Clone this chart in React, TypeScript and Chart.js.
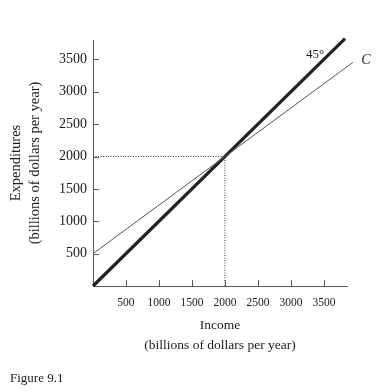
import React, { useEffect, useRef } from "react";
import { Chart, registerables } from "chart.js";

Chart.register(...registerables);

// Data
const incomeTicks = [500, 1000, 1500, 2000, 2500, 3000, 3500];
const expenditureTicks = [500, 1000, 1500, 2000, 2500, 3000, 3500];
const line45X = [0, 3820];
const line45Y = [0, 3820];
const consumptionX = [0, 3940];
const consumptionY = [500, 3455];
const equilibriumIncome = 2000;
const equilibriumExpenditure = 2000;

const SERIF = "'Liberation Serif', 'Times New Roman', serif";
const AXIS_COLOR = "#5a5a5a";
const TEXT_COLOR = "#1a1a1a";

const toPoints = (xs: number[], ys: number[]) => xs.map((x, i) => ({ x, y: ys[i] }));

const innerTicksPlugin = {
  id: "innerTicks",
  afterDraw(chart: any) {
    const { ctx, chartArea, scales } = chart;
    const xs = scales.x;
    const ys = scales.y;
    ctx.save();
    ctx.strokeStyle = AXIS_COLOR;
    ctx.lineWidth = 1;
    incomeTicks.forEach((v) => {
      const px = Math.round(xs.getPixelForValue(v)) + 0.5;
      ctx.beginPath();
      ctx.moveTo(px, chartArea.bottom);
      ctx.lineTo(px, chartArea.bottom - 6);
      ctx.stroke();
    });
    expenditureTicks.forEach((v) => {
      const py = Math.round(ys.getPixelForValue(v)) + 0.5;
      ctx.beginPath();
      ctx.moveTo(chartArea.left, py);
      ctx.lineTo(chartArea.left + 6, py);
      ctx.stroke();
    });
    // line labels
    ctx.fillStyle = TEXT_COLOR;
    ctx.textAlign = "center";
    ctx.textBaseline = "middle";
    ctx.font = `13px ${SERIF}`;
    const l45x = xs.getPixelForValue(line45X[1]);
    const l45y = ys.getPixelForValue(line45Y[1]);
    ctx.fillText("45°", l45x - 30, l45y + 16);
    const cx = xs.getPixelForValue(consumptionX[1]);
    const cy = ys.getPixelForValue(consumptionY[1]);
    ctx.font = `italic 14px ${SERIF}`;
    ctx.fillText("C", cx + 13, cy - 2);
    ctx.restore();
  },
};

export default function App() {
  const canvasRef = useRef<HTMLCanvasElement | null>(null);

  useEffect(() => {
    if (!canvasRef.current) return;
    const chart = new Chart(canvasRef.current, {
      type: "scatter",
      data: {
        datasets: [
          {
            label: "guideH",
            data: toPoints([0, equilibriumIncome], [equilibriumExpenditure, equilibriumExpenditure]),
            showLine: true,
            borderColor: "#333",
            borderWidth: 1,
            borderDash: [1, 1.5],
            pointRadius: 0,
          },
          {
            label: "guideV",
            data: toPoints([equilibriumIncome, equilibriumIncome], [0, equilibriumExpenditure]),
            showLine: true,
            borderColor: "#333",
            borderWidth: 1,
            borderDash: [1, 1.5],
            pointRadius: 0,
          },
          {
            label: "C",
            data: toPoints(consumptionX, consumptionY),
            showLine: true,
            borderColor: "#555",
            borderWidth: 1,
            pointRadius: 0,
            clip: false as any,
          },
          {
            label: "45",
            data: toPoints(line45X, line45Y),
            showLine: true,
            borderColor: "#222",
            borderWidth: 3.2,
            pointRadius: 0,
            clip: false as any,
          },
        ],
      },
      options: {
        animation: false,
        responsive: false,
        layout: { padding: { top: 40, right: 38, left: 0, bottom: 0 } },
        plugins: {
          legend: { display: false },
          tooltip: { enabled: false },
        },
        scales: {
          x: {
            type: "linear",
            min: 0,
            max: 3850,
            grid: { display: false, drawTicks: false },
            border: { display: true, color: AXIS_COLOR, width: 1 },
            afterBuildTicks: (scale: any) => {
              scale.ticks = incomeTicks.map((v) => ({ value: v }));
            },
            afterFit: (scale: any) => {
              scale.height = 106;
            },
            ticks: {
              color: TEXT_COLOR,
              font: { family: SERIF, size: 11.5 },
              padding: 10,
              maxRotation: 0,
              autoSkip: false,
              callback: (v: any) => String(v),
            },
            title: {
              display: true,
              text: ["Income", "(billions of dollars per year)"],
              color: TEXT_COLOR,
              font: { family: SERIF, size: 13.5, lineHeight: 1.45 },
              padding: { top: 0, bottom: 37 },
            },
          },
          y: {
            type: "linear",
            min: 0,
            max: 3800,
            grid: { display: false, drawTicks: false },
            border: { display: true, color: AXIS_COLOR, width: 1 },
            afterBuildTicks: (scale: any) => {
              scale.ticks = expenditureTicks.map((v) => ({ value: v }));
            },
            afterFit: (scale: any) => {
              scale.width = 93;
            },
            ticks: {
              color: TEXT_COLOR,
              font: { family: SERIF, size: 14 },
              padding: 6,
              autoSkip: false,
              callback: (v: any) => String(v),
            },
            title: {
              display: true,
              text: ["Expenditures", "(billions of dollars per year)"],
              color: TEXT_COLOR,
              font: { family: SERIF, size: 14.5, lineHeight: 1.35 },
              padding: { top: 6, bottom: 0 },
            },
          },
        },
      },
      plugins: [innerTicksPlugin],
    });
    return () => chart.destroy();
  }, []);

  return (
    <div style={{ position: "fixed", left: 0, top: 0, width: 385, height: 392, background: "#fff" }}>
      <canvas ref={canvasRef} width={385} height={392} style={{ width: 385, height: 392 }} />
      <div
        style={{
          position: "absolute",
          left: 10,
          top: 370,
          fontFamily: SERIF,
          fontSize: 13,
          color: TEXT_COLOR,
          lineHeight: "16px",
        }}
      >
        Figure 9.1
      </div>
    </div>
  );
}
